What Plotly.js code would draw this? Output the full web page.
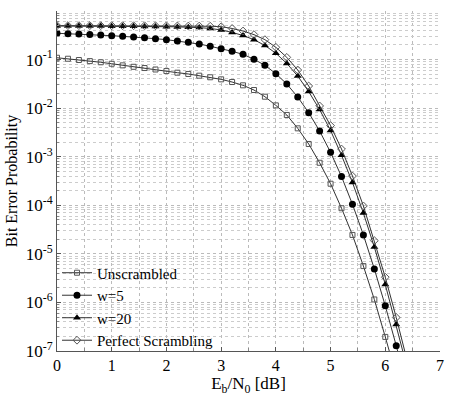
<!DOCTYPE html>
<html>
<head>
<meta charset="utf-8">
<script src="https://cdn.plot.ly/plotly-3.0.1.min.js"></script>
<style>html,body{margin:0;padding:0;background:#fff;}#chart{width:452px;height:396px;}</style>
</head>
<body>
<div id="chart"></div>
<script>
const ebn0 = [0,0.2,0.4,0.6,0.8,1.0,1.2,1.4,1.6,1.8,2.0,2.2,2.4,2.6,2.8,3.0,3.2,3.4,3.6,3.8,4.0,4.2,4.4,4.6,4.8,5.0,5.2,5.4,5.6,5.8,6.0,6.2,6.4];
const unscrambled = [0.109,0.104,0.098,0.093,0.088,0.082,0.076,0.071,0.067,0.0625,0.058,0.0537,0.0505,0.0466,0.0432,0.0392,0.0345,0.0295,0.0236,0.0172,0.0114,0.00723,0.00384,0.00183,7.5e-4,2.78e-4,8.7e-5,2.45e-5,5.6e-6,1.15e-6,1.95e-7,3.2e-8,5e-9];
const w5 = [0.348,0.342,0.336,0.328,0.321,0.310,0.301,0.292,0.282,0.269,0.257,0.241,0.227,0.209,0.188,0.1675,0.148,0.128,0.1014,0.0762,0.0512,0.0314,0.0169,0.00807,0.00338,0.00123,3.9e-4,1.05e-4,2.45e-5,4.9e-6,8.5e-7,1.29e-7,1.8e-8];
const w20 = [0.491,0.491,0.490,0.490,0.489,0.488,0.486,0.484,0.482,0.479,0.475,0.471,0.465,0.455,0.437,0.407,0.363,0.313,0.257,0.195,0.135,0.0832,0.0457,0.0219,0.00933,0.00347,0.00107,2.95e-4,6.9e-5,1.38e-5,2.34e-6,3.5e-7,4.5e-8];
const perfect = [0.500,0.500,0.500,0.500,0.499,0.499,0.499,0.498,0.497,0.496,0.494,0.492,0.490,0.490,0.485,0.475,0.437,0.387,0.326,0.257,0.179,0.111,0.061,0.0286,0.0111,0.00437,0.00144,4.0e-4,9.7e-5,1.87e-5,3.3e-6,4.9e-7,6.3e-8];
const seriesNames = ["Unscrambled","w=5","w=20","Perfect Scrambling"];
const yTickVals = [1e-7,1e-6,1e-5,1e-4,1e-3,1e-2,1e-1,1];
const yTickText = ["10<sup>-7</sup>","10<sup>-6</sup>","10<sup>-5</sup>","10<sup>-4</sup>","10<sup>-3</sup>","10<sup>-2</sup>","10<sup>-1</sup>","10<sup>0</sup>"];

const FONT = "Liberation Serif, Times New Roman, serif";
const lineStyle = {color:"#333", width:1};
const traces = [
  {x:ebn0, y:unscrambled, name:seriesNames[0], mode:"lines+markers", line:lineStyle,
   marker:{symbol:"square-open", size:5, color:"#555", line:{width:1}}},
  {x:ebn0, y:w5, name:seriesNames[1], mode:"lines+markers", line:lineStyle,
   marker:{symbol:"circle", size:7, color:"#000"}},
  {x:ebn0, y:w20, name:seriesNames[2], mode:"lines+markers", line:lineStyle,
   marker:{symbol:"triangle-up", size:7, color:"#000"}},
  {x:ebn0, y:perfect, name:seriesNames[3], mode:"lines+markers", line:lineStyle,
   marker:{symbol:"diamond-open", size:6, color:"#555", line:{width:1}}}
];

const layout = {
  width:452, height:396,
  margin:{l:57, r:12, t:11, b:45},
  paper_bgcolor:"#fff", plot_bgcolor:"#fff",
  font:{family:FONT, size:15, color:"#000"},
  showlegend:true,
  legend:{x:0.0, xanchor:"left", y:0.278, yanchor:"top", bgcolor:"rgba(0,0,0,0)",
          font:{family:FONT, size:15, color:"#000"}, tracegroupgap:0, itemwidth:30},
  xaxis:{range:[0,7], dtick:1, tick0:0, showline:true, linecolor:"#555", linewidth:1,
         ticks:"inside", ticklen:4, tickcolor:"#555", zeroline:false,
         showgrid:true, gridcolor:"#bbb", griddash:"dot", gridwidth:1,
         minor:{dtick:0.5, showgrid:true, gridcolor:"#bbb", griddash:"dot", ticks:"inside", ticklen:3, tickcolor:"#888"},
         tickfont:{family:FONT, size:16},
         title:{text:"E<sub>b</sub>/N<sub>0</sub> [dB]", font:{family:FONT, size:17}, standoff:7}},
  yaxis:{type:"log", range:[-7,0], tickvals:yTickVals, ticktext:yTickText,
         showline:true, linecolor:"#555", linewidth:1, ticks:"inside", ticklen:4, tickcolor:"#555",
         showgrid:true, gridcolor:"#bbb", griddash:"dot", gridwidth:1, zeroline:false,
         minor:{dtick:"D1", showgrid:true, gridcolor:"#ccc", griddash:"dot", ticks:"inside", ticklen:2, tickcolor:"#888"},
         tickfont:{family:FONT, size:17},
         title:{text:"Bit Error Probability", font:{family:FONT, size:16}, standoff:4}}
};
Plotly.newPlot("chart", traces, layout, {displayModeBar:false, staticPlot:true});
</script>
</body>
</html>
